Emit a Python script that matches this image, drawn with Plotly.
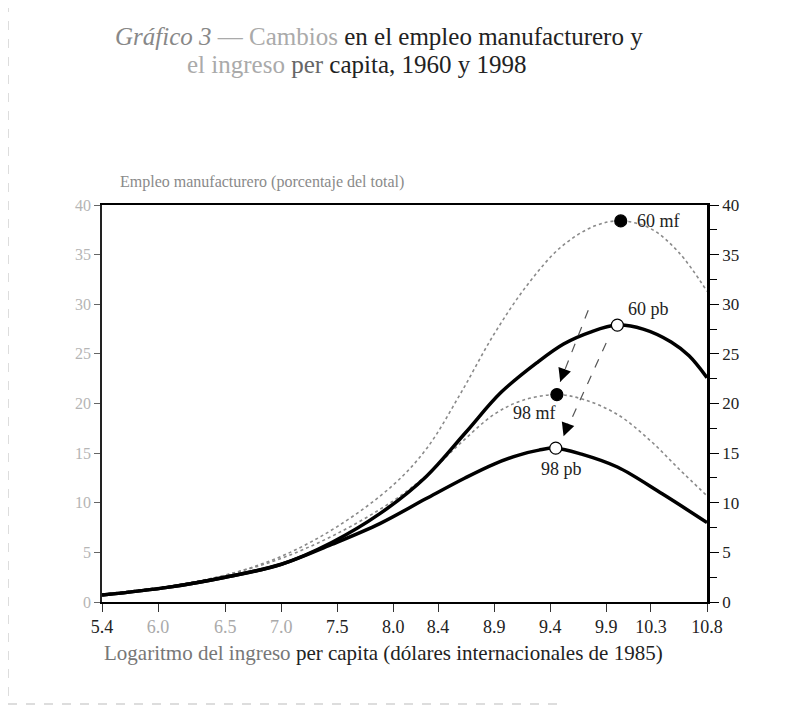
import plotly.graph_objects as go

# x = logaritmo del ingreso per capita, y = empleo manufacturero (% del total)
pb60_x = [5.4, 6.0, 6.5, 7.0, 7.45, 7.88, 8.29, 8.64, 8.96, 9.28, 9.52, 9.76, 10.0, 10.23, 10.48, 10.64, 10.8]
pb60_y = [0.7, 1.5, 2.5, 3.8, 6.0, 8.9, 12.6, 17.0, 21.1, 24.1, 26.0, 27.2, 27.9, 27.5, 26.2, 24.8, 22.6]

pb98_x = [5.4, 6.0, 6.5, 7.0, 7.45, 7.88, 8.29, 8.64, 8.9, 9.12, 9.3, 9.45, 9.68, 10.0, 10.4, 10.8]
pb98_y = [0.7, 1.5, 2.5, 3.8, 5.8, 7.9, 10.4, 12.5, 13.9, 14.8, 15.3, 15.5, 14.9, 13.6, 10.9, 8.0]

mf60_x = [5.4, 6.0, 6.5, 7.0, 7.5, 8.0, 8.3, 8.6, 8.9, 9.2, 9.5, 9.8, 10.03, 10.3, 10.55, 10.8]
mf60_y = [0.8, 1.6, 2.7, 4.6, 7.6, 11.8, 15.5, 21.0, 27.0, 32.0, 35.8, 37.9, 38.4, 37.6, 35.2, 31.3]

mf98_x = [5.4, 6.0, 6.5, 7.0, 7.5, 8.0, 8.3, 8.6, 8.9, 9.15, 9.46, 9.7, 10.0, 10.3, 10.55, 10.8]
mf98_y = [0.8, 1.6, 2.7, 4.4, 6.9, 10.2, 12.8, 16.0, 18.9, 20.3, 20.9, 20.4, 18.9, 16.2, 13.4, 10.7]

peak_labels = ["60 mf", "60 pb", "98 mf", "98 pb"]
peak_x = [10.03, 10.0, 9.46, 9.45]
peak_y = [38.4, 27.9, 20.9, 15.5]

# flechas 1960 -> 1998 (cola, punta)
arrow_tail_x = [9.74, 9.90]
arrow_tail_y = [29.4, 26.1]
arrow_tip_x = [9.49, 9.52]
arrow_tip_y = [22.2, 16.7]

x_ticks = [5.4, 5.9, 6.5, 7.0, 7.5, 8.0, 8.4, 8.9, 9.4, 9.9, 10.3, 10.8]
x_ticklabels = ["5.4", "6.0", "6.5", "7.0", "7.5", "8.0", "8.4", "8.9", "9.4", "9.9", "10.3", "10.8"]
y_ticks = [0, 5, 10, 15, 20, 25, 30, 35, 40]

FONT = "Liberation Serif"
faded = {"6.0", "6.5", "7.0"}
ticktext = [f"<span style='color:#aaaaaa'>{t}</span>" if t in faded else t for t in x_ticklabels]

# the page body has an 8px margin, plot area should sit at x 102-707, y 205-602
W, H = 807, 708
L, R, T, B = 94, 108, 197, 114


def px(x):
    return (x - 102) / 605


def py(y):
    return (602 - y) / 397


fig = go.Figure()

for xs, ys in [(mf60_x, mf60_y), (mf98_x, mf98_y)]:
    fig.add_trace(go.Scatter(x=xs, y=ys, mode="lines",
                             line=dict(color="#8a8a8a", width=1.6, dash="dot", shape="spline", smoothing=1.0),
                             hoverinfo="skip", showlegend=False))
for xs, ys in [(pb60_x, pb60_y), (pb98_x, pb98_y)]:
    fig.add_trace(go.Scatter(x=xs, y=ys, mode="lines",
                             line=dict(color="black", width=3.5, shape="spline", smoothing=1.0),
                             hoverinfo="skip", showlegend=False))

# flechas discontinuas
for i in range(2):
    fig.add_trace(go.Scatter(x=[arrow_tail_x[i], arrow_tip_x[i]], y=[arrow_tail_y[i], arrow_tip_y[i]], mode="lines",
                             line=dict(color="#555", width=1.2, dash="dash"), hoverinfo="skip", showlegend=False))
    fig.add_annotation(x=arrow_tip_x[i], y=arrow_tip_y[i], ax=5, ay=-14, text="", showarrow=True,
                       arrowhead=2, arrowsize=2.2, arrowwidth=1.2, arrowcolor="black", standoff=0)

fills = ["black", "white", "black", "white"]
fig.add_trace(go.Scatter(x=peak_x, y=peak_y, mode="markers",
                         marker=dict(size=12, color=fills, line=dict(color="black", width=1.2)),
                         hoverinfo="skip", showlegend=False))

# (xshift, yshift, anchor) for each peak label
label_pos = [(14, 0, "left"), (31, 16, "center"), (-22, -18, "center"), (6, -21, "center")]
for lab, x, y, (dx, dy, al) in zip(peak_labels, peak_x, peak_y, label_pos):
    fig.add_annotation(x=x, y=y, text=lab, showarrow=False, xshift=dx, yshift=dy,
                       xanchor=al, font=dict(family=FONT, size=18, color="#222"))

# eje derecho
fig.add_trace(go.Scatter(x=[5.4], y=[0], yaxis="y2", mode="markers", marker=dict(opacity=0),
                         hoverinfo="skip", showlegend=False))

fig.update_layout(
    width=W, height=H,
    margin=dict(l=L, r=R, t=T, b=B),
    paper_bgcolor="white", plot_bgcolor="white",
    font=dict(family=FONT, color="#222"),
    xaxis=dict(range=[5.4, 10.8], tickvals=x_ticks, ticktext=ticktext, ticks="outside", ticklen=8, tickcolor="#333",
               showline=True, linecolor="black", linewidth=1.5, mirror=True, showgrid=False, zeroline=False,
               tickfont=dict(family=FONT, size=18, color="#222")),
    yaxis=dict(range=[0, 40], tickvals=y_ticks, ticks="outside", ticklen=6, tickcolor="#666",
               showline=True, linecolor="#222", linewidth=1.5, showgrid=False, zeroline=False,
               tickfont=dict(family=FONT, size=16, color="#b5b5b5")),
    yaxis2=dict(range=[0, 40], tickvals=y_ticks, overlaying="y", side="right", ticks="outside", ticklen=9,
                tickcolor="black", showline=True, linecolor="black", linewidth=2.5, showgrid=False, zeroline=False,
                minor=dict(tickvals=[2.5, 7.5, 12.5, 17.5, 22.5, 27.5, 32.5, 37.5], ticks="outside", ticklen=7,
                           tickcolor="black"),
                tickfont=dict(family=FONT, size=17, color="#222")),
)

# titulos
fig.add_annotation(xref="paper", yref="paper", x=px(113), y=py(36), xanchor="left", yanchor="middle", showarrow=False,
                   text="<i style='color:#888'>Gráfico 3</i> <span style='color:#aaa'>— Cambios</span> en el empleo manufacturero y",
                   font=dict(family=FONT, size=25, color="#222"))
fig.add_annotation(xref="paper", yref="paper", x=px(185), y=py(64), xanchor="left", yanchor="middle", showarrow=False,
                   text="<span style='color:#aaa'>el ingreso</span> <span style='color:#666'>per</span> capita, 1960 y 1998",
                   font=dict(family=FONT, size=25, color="#222"))
fig.add_annotation(xref="paper", yref="paper", x=px(118), y=py(182), xanchor="left", yanchor="middle", showarrow=False,
                   text="Empleo manufacturero (porcentaje del total)",
                   font=dict(family=FONT, size=16, color="#8a8a8a"))
fig.add_annotation(xref="paper", yref="paper", x=px(102), y=py(653), xanchor="left", yanchor="middle", showarrow=False,
                   text="<span style='color:#777'>Logaritmo del ingreso</span> per capita (dólares internacionales de 1985)",
                   font=dict(family=FONT, size=21, color="#222"))

# marco discontinuo del recorte
for x0, y0, x1, y1 in [(8, 3, 800, 3), (8, 3, 8, 704), (8, 704, 560, 704)]:
    fig.add_shape(type="line", xref="paper", yref="paper", x0=px(x0), x1=px(x1), y0=py(y0), y1=py(y1),
                  line=dict(color="#bbbbbb", width=1, dash="dash"))

fig.write_html("out.html")
